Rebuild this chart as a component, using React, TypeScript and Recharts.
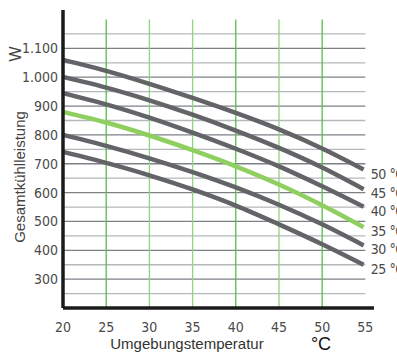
import React from 'react';
import { LineChart, Line, XAxis, YAxis, ReferenceLine } from 'recharts';

// ---------------------------------------------------------------------------
// Data
// ---------------------------------------------------------------------------

const ambientTemps = [20, 25, 30, 35, 40, 45, 50, 54.8];

const cool50 = [1060, 1022, 977, 928, 876, 819, 753, 680];
const cool45 = [1001, 964, 920, 870, 815, 755, 687, 612];
const cool40 = [945, 906, 860, 808, 752, 691, 622, 551];
const cool35 = [880, 843, 798, 747, 691, 628, 556, 480];
const cool30 = [800, 762, 719, 671, 618, 558, 490, 417];
const cool25 = [741, 703, 660, 611, 555, 490, 421, 350];

const seriesNames = ['50 °C', '45 °C', '40 °C', '35 °C', '30 °C', '25 °C'];

const xTicks = [20, 25, 30, 35, 40, 45, 50, 55];
const yTicks = [300, 400, 500, 600, 700, 800, 900, 1000, 1100];
const hGrid = [250, 300, 350, 400, 450, 500, 550, 600, 650, 700, 750, 800, 850, 900, 950, 1000, 1050, 1100, 1150];
const vGrid = [25, 30, 35, 40, 45, 50];

const chartData = ambientTemps.map((t, i) => ({
  t,
  c50: cool50[i],
  c45: cool45[i],
  c40: cool40[i],
  c35: cool35[i],
  c30: cool30[i],
  c25: cool25[i],
}));

// ---------------------------------------------------------------------------
// Styles
// ---------------------------------------------------------------------------

const NARROW = "'Liberation Sans Narrow', 'DejaVu Sans Condensed', 'Roboto', sans-serif";
const SANS = "'Liberation Sans', 'Roboto', sans-serif";
const DARK = '#636468';
const GREEN = '#8fcf5f';
const vGreens = ['#55bf45', '#8fd47e', '#8fd47e', '#55bf45', '#8fd47e', '#55bf45'];

const fmtW = (v: number) => (v >= 1000 ? `${Math.floor(v / 1000)}.${String(v % 1000).padStart(3, '0')}` : String(v));

const endLabel = (name: string) => (props: any) => {
  const { x, y, index } = props;
  if (index !== ambientTemps.length - 1) return null;
  return (
    <text x={x + 7} y={y + 9} fill="#4a4a4a" fontSize={14} fontFamily={NARROW} letterSpacing={-0.4}>
      {name}
    </text>
  );
};

export default function App() {
  const keys = ['c50', 'c45', 'c40', 'c35', 'c30', 'c25'];
  return (
    <div style={{ position: 'absolute', left: 0, top: 0, width: 397, height: 354, background: '#fff' }}>
      <LineChart width={397} height={354} data={chartData} margin={{ top: 10, right: 23, left: 0, bottom: 0 }}>
        <XAxis
          dataKey="t"
          type="number"
          domain={[20, 56]}
          ticks={xTicks}
          tickLine={false}
          tickSize={0}
          tickMargin={14}
          height={46}
          axisLine={{ stroke: '#1b1b1b', strokeWidth: 3.5 }}
          tick={{ fill: '#4a4a4a', fontSize: 14, fontFamily: NARROW }}
        />
        <YAxis
          type="number"
          domain={[200, 1233]}
          ticks={yTicks}
          width={63}
          tickLine={false}
          tickSize={0}
          tickMargin={5}
          tickFormatter={fmtW}
          axisLine={{ stroke: '#1b1b1b', strokeWidth: 3.5 }}
          tick={{ fill: '#4a4a4a', fontSize: 14, fontFamily: NARROW }}
        />

        {/* grid */}
        {hGrid.map((v) => (
          <ReferenceLine
            key={`h${v}`}
            segment={[{ x: 20, y: v }, { x: 55, y: v }]}
            stroke={v % 100 === 0 ? '#7d8186' : '#b4b8bb'}
            strokeWidth={1.3}
            ifOverflow="visible"
          />
        ))}
        {vGrid.map((v, i) => (
          <ReferenceLine
            key={`v${v}`}
            segment={[{ x: v, y: 200 }, { x: v, y: 1200 }]}
            stroke={vGreens[i]}
            strokeWidth={1.3}
            ifOverflow="visible"
          />
        ))}

        {keys.map((k, i) => (
          <Line
            key={k}
            dataKey={k}
            type="monotone"
            stroke={k === 'c35' ? GREEN : DARK}
            strokeWidth={4.5}
            dot={false}
            activeDot={false}
            isAnimationActive={false}
            label={endLabel(seriesNames[i])}
          />
        ))}

        <text x={0} y={0} transform="translate(19 177) rotate(-90)" textAnchor="middle" dominantBaseline="central" fill="#444" fontSize={15} fontFamily={SANS}>
          Gesamtkühlleistung
        </text>
        <text x={0} y={0} transform="translate(15 54) rotate(-90)" textAnchor="middle" dominantBaseline="central" fill="#444" fontSize={16} fontFamily={SANS}>
          W
        </text>
        <text x={187} y={343} textAnchor="middle" dominantBaseline="central" fill="#333" fontSize={15} fontFamily={SANS}>
          Umgebungstemperatur
        </text>
        <text x={321} y={344} textAnchor="middle" dominantBaseline="central" fill="#111" fontSize={18} fontFamily={SANS}>
          °C
        </text>
      </LineChart>
    </div>
  );
}
